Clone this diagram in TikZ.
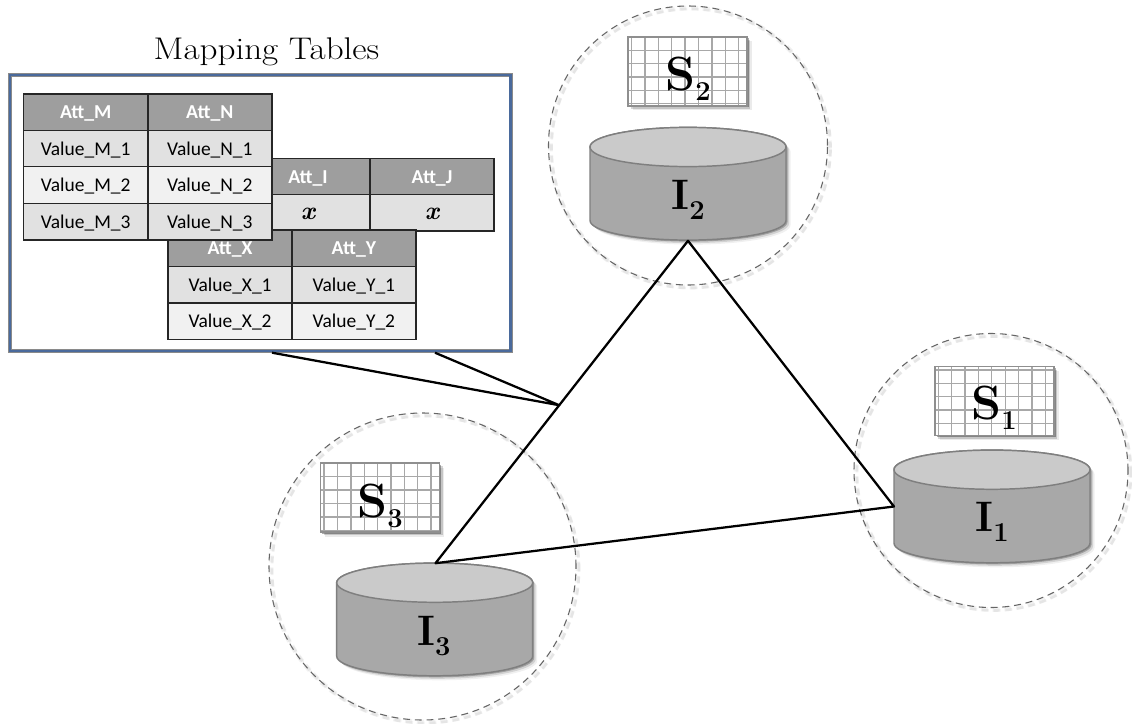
\documentclass[tikz,border=0pt]{standalone}
\usepackage{fontspec}
\setmainfont{Latin Modern Roman}
\newfontfamily\cellfont{Carlito}
\newfontfamily\titlefont[FakeStretch=1.12]{Latin Modern Roman}
\usetikzlibrary{calc}
\definecolor{framecol}{HTML}{4A6A9C}
\definecolor{framegray}{HTML}{8A8A8A}
\definecolor{hdr}{HTML}{9E9E9E}
\definecolor{rowa}{HTML}{E1E1E1}
\definecolor{rowb}{HTML}{F1F1F1}
\definecolor{cylside}{HTML}{A8A8A8}
\definecolor{cyltop}{HTML}{CACACA}
\definecolor{cyledge}{HTML}{7F7F7F}
\definecolor{gridcol}{HTML}{A8A8A8}
\definecolor{dashcol}{HTML}{666666}
\tikzset{
  x=0.75pt,y=-0.75pt,
  cell/.style={draw=black!85,line width=1.1pt,minimum width=93pt,minimum height=27.4pt,inner sep=0pt,anchor=center,text height=11.3pt,text depth=1.5pt,font=\cellfont\fontsize{14.6}{15}\selectfont,text=black},
  hcell/.style={cell,fill=hdr,text=white,font=\cellfont\bfseries\fontsize{14.8}{15}\selectfont},
  acell/.style={cell,fill=rowa},
  bcell/.style={cell,fill=rowb},
  xcell/.style={acell,font=\bfseries\itshape\fontsize{19}{19}\selectfont},
  regionring/.style={draw=dashcol,line width=0.8pt,dash pattern=on 5.2pt off 3.6pt},
  link/.style={draw=black,line width=1.7pt,line join=round},
  lbl/.style={inner sep=0pt,anchor=base},
  cylpath/.style={draw=cyledge,line width=1.1pt},
}
\newcommand{\capS}[1]{{\bfseries\fontsize{36}{36}\selectfont S}\raisebox{-7.5pt}{\bfseries\fontsize{20.5}{21}\selectfont #1}}
\newcommand{\capI}[1]{{\bfseries\fontsize{32}{33}\selectfont I}\raisebox{-7.5pt}{\bfseries\fontsize{20.5}{21}\selectfont #1}}
\newcommand{\cylinder}[2]{%
  \begin{scope}[shift={(#1,#2)}]
    \foreach \o/\w in {1.5/1,3/.5,4.5/.25}{
      \fill[black,opacity=.12*\w*2] (-98+\o,\o) -- (-98+\o,73.5+\o) arc[start angle=180,end angle=360,x radius=73.5pt,y radius=14.7pt] -- (98+\o,\o) arc[start angle=0,end angle=180,x radius=73.5pt,y radius=14.7pt] -- cycle;
    }
    \path[cylpath,fill=cylside] (-98,0) -- (-98,73.5) arc[start angle=180,end angle=360,x radius=73.5pt,y radius=14.7pt] -- (98,0) arc[start angle=0,end angle=180,x radius=73.5pt,y radius=14.7pt] -- cycle;
    \path[cylpath,fill=cyltop] (0,0) ellipse[x radius=73.5pt,y radius=14.7pt];
  \end{scope}}
\newcommand{\gridbox}[4]{%
  \begin{scope}[shift={(#1,#2)}]
    \foreach \o/\w in {1.5/1,3/.5,4.5/.25}{
      \fill[black,opacity=.16*\w*2] (\o,\o) rectangle (119+\o,69+\o);
    }
    \fill[white] (0,0) rectangle (119,69);
    \begin{scope}
      \clip (0,0) rectangle (119,69);
      \foreach \i in {0,...,8}{\draw[gridcol,line width=1pt] ({#3+13.38*\i},0) -- ({#3+13.38*\i},69);}
      \foreach \i in {0,...,4}{\draw[gridcol,line width=1pt] (0,{#4+13.38*\i}) -- (119,{#4+13.38*\i});}
    \end{scope}
    \draw[gridcol!85!black,line width=1.3pt] (0,0) rectangle (119,69);
  \end{scope}}
\newcommand{\ring}[4]{%
  \foreach \o/\w/\op in {2/3.5/.05,3/2/.05}{
    \draw[black,opacity=\op,line width=\w pt,dash pattern=on 5.2pt off 3.6pt] (#2+\o,#3+\o) circle[radius=#4*.75pt];
  }
  \node[regionring,circle,minimum size=#4*1.5pt,inner sep=0pt] (#1) at (#2,#3) {};}
\begin{document}
\begin{tikzpicture}
\useasboundingbox (0,0) rectangle (1132,724);
\fill[white] (0,0) rectangle (1132,724);

\ring{ring2}{688}{145.5}{139.5}
\ring{ring1}{991}{470.5}{137}
\ring{ring3}{422.5}{566.5}{153.5}

\gridbox{628.3}{36.8}{3.3}{13.4}
\gridbox{935}{366.6}{3.3}{3.4}
\gridbox{320.5}{463.3}{3.6}{13.4}
\cylinder{688}{147}
\cylinder{992}{469.7}
\cylinder{434.7}{582.7}
\node[lbl] (s2) at (688,90) {\capS{2}};
\node[lbl] (s1) at (994,419.3) {\capS{1}};
\node[lbl] (s3) at (380,517) {\capS{3}};
\node[lbl] (i2) at (688,209) {\capI{2}};
\node[lbl] (i1) at (992,531.7) {\capI{1}};
\node[lbl] (i3) at (434,645) {\capI{3}};

\coordinate (i2b) at (688,240.8);
\coordinate (i1l) at (894,506.5);
\coordinate (i3t) at (435.5,563.2);
\coordinate (tap) at ($(i2b)!0.51!(i3t)$);

\node[draw=framegray,line width=2.9pt,outer sep=0pt,minimum width=375.5pt,minimum height=207pt,inner sep=0pt,fill=white] (frame) at (260.3,213) {};
\draw[framecol,line width=1.9pt] (frame.north west) rectangle (frame.south east);
\node[lbl,font=\titlefont\fontsize{23.5}{24}\selectfont] (title) at (266.5,59.3) {Mapping Tables};

\draw[link] (i2b) -- (i3t) -- (i1l) -- cycle;
\coordinate (c1) at (272,352.7);
\coordinate (c2) at (435,352.7);
\draw[link] (c1) -- (tap) -- (c2);

\node[hcell] (ti1) at (308,176.5) {Att\_I};
\node[hcell] (tj1) at (432,176.5) {Att\_J};
\node[xcell] (ti2) at (308,212.9) {x};
\node[xcell] (tj2) at (432,212.9) {x};
\node[hcell] (tx1) at (230.1,248.4) {Att\_X};
\node[hcell] (ty1) at (353.9,248.4) {Att\_Y};
\node[acell] (tx2) at (230.1,284.7) {Value\_X\_1};
\node[acell] (ty2) at (353.9,284.7) {Value\_Y\_1};
\node[bcell] (tx3) at (230.1,321.2) {Value\_X\_2};
\node[bcell] (ty3) at (353.9,321.2) {Value\_Y\_2};
\node[hcell] (tm1) at (85.7,112.2) {Att\_M};
\node[hcell] (tn1) at (209.8,112.2) {Att\_N};
\node[acell] (tm2) at (85.7,148.5) {Value\_M\_1};
\node[acell] (tn2) at (209.8,148.5) {Value\_N\_1};
\node[bcell] (tm3) at (85.7,185) {Value\_M\_2};
\node[bcell] (tn3) at (209.8,185) {Value\_N\_2};
\node[acell] (tm4) at (85.7,221.8) {Value\_M\_3};
\node[acell] (tn4) at (209.8,221.8) {Value\_N\_3};
\end{tikzpicture}
\end{document}
